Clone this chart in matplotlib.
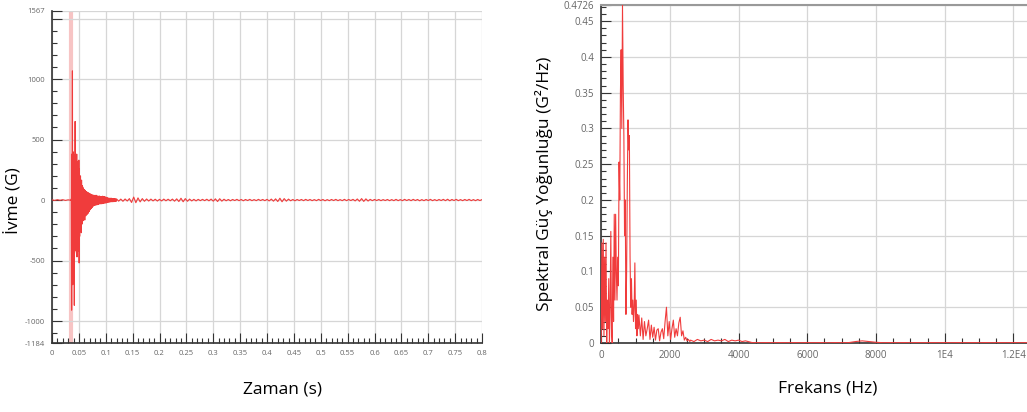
import numpy as np
import matplotlib
matplotlib.use("Agg")
import matplotlib.pyplot as plt
from matplotlib.ticker import FixedLocator, MultipleLocator, FuncFormatter

plt.rcParams['font.family'] = ['Open Sans', 'DejaVu Sans']

# --- acceleration vs time ---
t_pre = [0.0, 0.005, 0.01, 0.015, 0.02, 0.025, 0.03, 0.035]
a_pre = [2, -3, 3, -2, 3, -3, 2, -2]

t_burst = np.round(np.arange(0.036, 0.0599, 0.0005), 4)
a_burst = [10, -910, 380, -600, 1068, -700, 400, -500, 380, -650,
           300, -870, 350, -400, 650, -420, 360, -380, 300, -440,
           380, -470, 250, -300, 320, -350, 200, -420, 330, -520,
           260, -300, 180, -250, 200, -230, 150, -270, 165, -200,
           120, -190, 110, -160, 100, -170, 90, -140]

t_decay = np.round(np.arange(0.060, 0.1195, 0.001), 3)
a_decay = [85, -165, 80, -130, 70, -120, 65, -110, 60, -95,
           55, -80, 50, -70, 45, -60, 42, -50, 40, -45,
           38, -42, 40, -40, 35, -38, 32, -35, 34, -30,
           30, -32, 28, -30, 32, -28, 30, -26, 28, -25,
           25, -24, 22, -20, 18, -18, 16, -17, 15, -15,
           16, -14, 13, -14, 12, -13, 12, -12, 11, -12]

t_tail = np.round(np.arange(0.120, 0.8001, 0.004), 3)
a_tail = [10, -9, 8, -10, 9, -8, 12, -20, 25, -22,
          18, -15, 12, -10, 9, -8, 8, -7, 7, -8,
          6, -7, 8, -6, 7, -6, 8, -9, 10, -12,
          15, -14, 12, -10, 8, -7, 6, -7, 6, -5,
          6, -5, 7, -6, 8, -9, 10, -12, 11, -9,
          7, -6, 5, -6, 5, -4, 6, -5, 5, -6,
          5, -4, 6, -5, 4, -5, 6, -4, 5, -5,
          6, -7, 8, -9, 10, -12, 15, -14, 12, -9,
          8, -6, 5, -6, 5, -4, 5, -5, 6, -4,
          5, -5, 4, -5, 6, -4, 5, -6, 4, -5,
          5, -4, 6, -5, 4, -5, 6, -5, 5, -4,
          6, -7, 9, -10, 12, -11, 10, -8, 6, -5,
          5, -4, 5, -5, 4, -4, 5, -5, 4, -5,
          6, -5, 4, -5, 6, -4, 5, -5, 6, -4,
          5, -6, 4, -5, 5, -4, 6, -5, 4, -5,
          5, -4, 6, -5, 7, -6, 5, -4, 6, -5,
          4, -5, 5, -4, 6, -5, 4, -5, 5, -4,
          4]

time = np.concatenate([t_pre, t_burst, t_decay, t_tail])
accel = np.concatenate([a_pre, a_burst, a_decay, a_tail])
cursor_t = 0.036

# --- power spectral density ---
f_low = np.arange(0, 1100, 20)
p_low = [0.0, 0.14, 0.02, 0.145, 0.01, 0.12, 0.03, 0.14, 0.0, 0.06,
         0.02, 0.09, 0.0, 0.05, 0.156, 0.02, 0.0, 0.12, 0.03, 0.18,
         0.06, 0.18, 0.10, 0.06, 0.12, 0.08, 0.253, 0.20, 0.35, 0.41,
         0.30, 0.4726, 0.36, 0.29, 0.15, 0.20, 0.04, 0.10, 0.22, 0.312,
         0.27, 0.29, 0.12, 0.05, 0.09, 0.04, 0.06, 0.03, 0.05, 0.112,
         0.02, 0.06, 0.01, 0.04, 0.02]
f_mid = np.arange(1100, 2600, 40)
p_mid = [0.039, 0.01, 0.035, 0.005, 0.03, 0.01, 0.02, 0.032, 0.005, 0.025,
         0.008, 0.022, 0.004, 0.018, 0.02, 0.003, 0.015, 0.02, 0.006, 0.03,
         0.05, 0.01, 0.03, 0.005, 0.02, 0.032, 0.008, 0.02, 0.01, 0.028,
         0.036, 0.01, 0.017, 0.004, 0.008, 0.003, 0.005, 0.002]
f_hi = np.arange(2600, 4300, 100)
p_hi = [0.004, 0.002, 0.005, 0.003, 0.004, 0.002, 0.005, 0.003, 0.004,
        0.003, 0.005, 0.002, 0.004, 0.003, 0.004, 0.002, 0.003]
f_far = np.arange(4400, 12500, 200)
p_far = [0.0005, 0.0004, 0.0005, 0.0004, 0.0005, 0.0004, 0.0005, 0.0004,
         0.0005, 0.0004, 0.0005, 0.0003, 0.0005, 0.0004, 0.0005, 0.002,
         0.003, 0.002, 0.001, 0.0004, 0.0005, 0.0004, 0.0005, 0.0004,
         0.0005, 0.0004, 0.0005, 0.0004, 0.0005, 0.0004, 0.0005, 0.0004,
         0.0005, 0.0004, 0.0005, 0.0004, 0.0005, 0.0004, 0.0005, 0.0004,
         0.0005]

freq = np.concatenate([f_low, f_mid, f_hi, f_far])
psd = np.concatenate([p_low, p_mid, p_hi, p_far])

x_labels_f = ["0", "2000", "4000", "6000", "8000", "1E4", "1.2E4"]

red = "#f03c3c"
grid_c = "#d6d6d6"
tick_c = "#666666"

fig = plt.figure(figsize=(10.27, 4.12), dpi=100)

# left panel
ax1 = fig.add_axes([52 / 1027, 1 - 343.3 / 412, 430 / 1027, 332.8 / 412])
ax1.axvline(cursor_t, color="#f7c4c4", lw=3, zorder=1)
ax1.plot(time, accel, color=red, lw=0.8, zorder=3)
ax1.set_xlim(0, 0.8)
ax1.set_ylim(-1184, 1567)
ax1.yaxis.set_major_locator(FixedLocator([-1184, -1000, -500, 0, 500, 1000, 1500, 1567]))
ax1.yaxis.set_major_formatter(FuncFormatter(lambda v, p: "" if v == 1500 else "%d" % v))
ax1.yaxis.set_minor_locator(MultipleLocator(100))
ax1.xaxis.set_major_locator(MultipleLocator(0.05))
ax1.xaxis.set_major_formatter(FuncFormatter(lambda v, p: "%g" % round(v, 2)))
ax1.xaxis.set_minor_locator(MultipleLocator(0.01))
ax1.grid(True, which="major", color=grid_c, lw=0.9, zorder=0)
ax1.tick_params(which="both", direction="in", colors="#333333", labelcolor=tick_c,
                labelsize=5.5, width=0.8)
ax1.tick_params(which="major", length=7, pad=5)
ax1.tick_params(which="minor", length=3.5)
for s in ["top", "right"]:
    ax1.spines[s].set_visible(False)
for s in ["left", "bottom"]:
    ax1.spines[s].set_color("#333333")
    ax1.spines[s].set_linewidth(1.2)
ax1.set_xlabel("Zaman (s)", fontsize=12.5)
ax1.xaxis.set_label_coords(0.535, -0.115)
ax1.set_ylabel("İvme (G)", fontsize=12.5)
ax1.yaxis.set_label_coords(-0.07, 0.43)

# right panel
ax2 = fig.add_axes([601.2 / 1027, 1 - 343 / 412, 425.8 / 1027, 338 / 412])
ax2.plot(freq, psd, color=red, lw=0.8, zorder=3)
ax2.set_xlim(0, 12396)
ax2.set_ylim(0, 0.4726)
ax2.yaxis.set_major_locator(FixedLocator([0, 0.05, 0.1, 0.15, 0.2, 0.25, 0.3, 0.35, 0.4, 0.45, 0.4726]))
ax2.yaxis.set_major_formatter(FuncFormatter(lambda v, p: "%g" % round(v, 4)))
ax2.yaxis.set_minor_locator(MultipleLocator(0.01))
ax2.xaxis.set_major_locator(FixedLocator([0, 2000, 4000, 6000, 8000, 10000, 12000]))
ax2.set_xticklabels(x_labels_f)
ax2.xaxis.set_minor_locator(MultipleLocator(500))
ax2.grid(True, which="major", color=grid_c, lw=0.9, zorder=0)
ax2.tick_params(which="both", direction="in", colors="#333333", labelcolor=tick_c,
                labelsize=7, width=0.8)
ax2.tick_params(which="major", length=7, pad=5)
ax2.tick_params(which="minor", length=3.5)
ax2.spines["right"].set_visible(False)
ax2.spines["top"].set_color("#999999")
ax2.spines["top"].set_linewidth(1.5)
for s in ["left", "bottom"]:
    ax2.spines[s].set_color("#333333")
    ax2.spines[s].set_linewidth(1.2)
ax2.set_xlabel("Frekans (Hz)", fontsize=12.5)
ax2.xaxis.set_label_coords(0.533, -0.11)
ax2.set_ylabel("Spektral Güç Yoğunluğu (G²/Hz)", fontsize=12.5)
ax2.yaxis.set_label_coords(-0.113, 0.47)

fig.savefig("out.png", dpi=100)
